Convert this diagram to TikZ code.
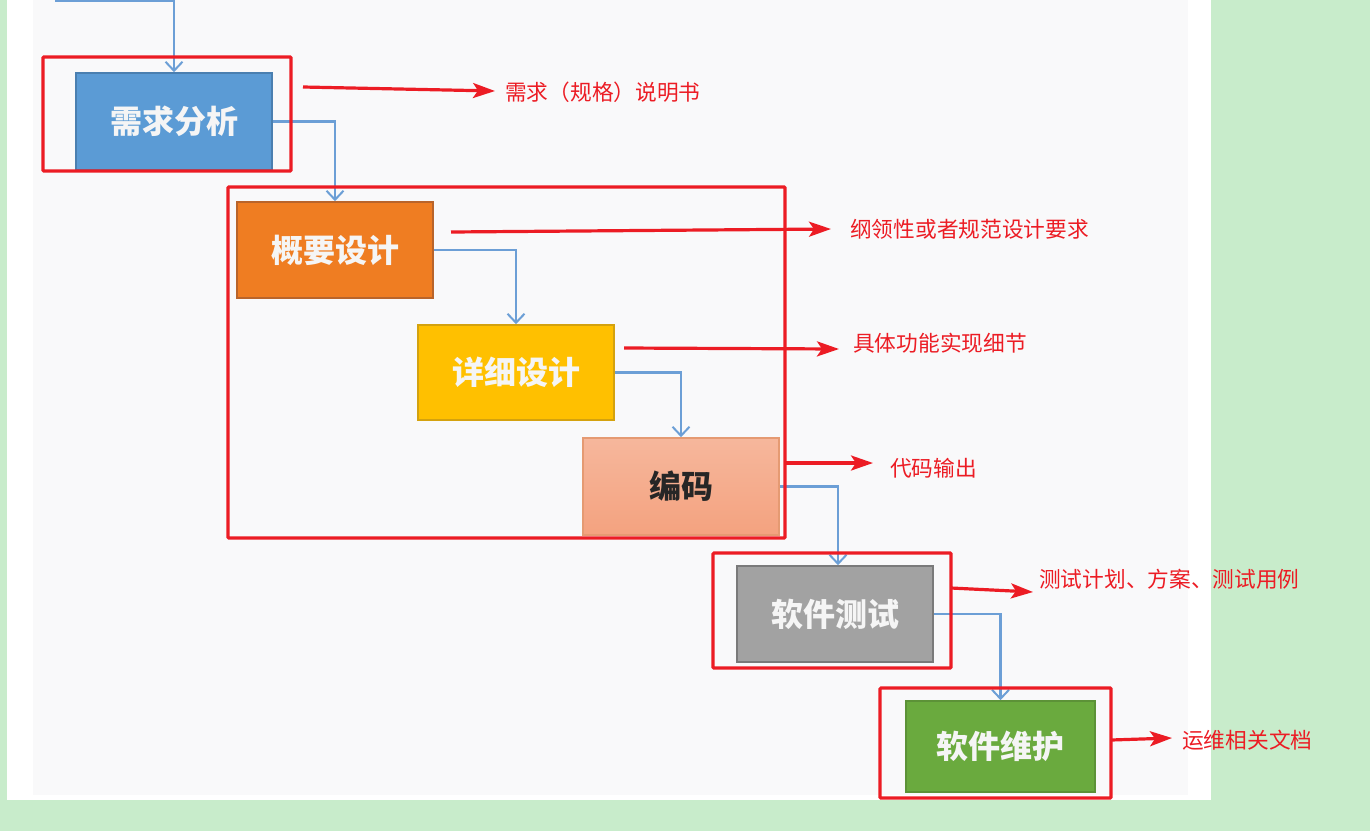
\documentclass[tikz,border=0pt]{standalone}
\usepackage{fontspec}
\newfontfamily\cjk{Noto Sans CJK SC}
\usetikzlibrary{arrows.meta}
\definecolor{bggreen}{HTML}{C8ECCB}
\definecolor{panel}{HTML}{F9F9FA}
\definecolor{redc}{HTML}{EC1C24}
\definecolor{flow}{HTML}{6C9FD6}
\definecolor{bluef}{HTML}{5B9BD5}\definecolor{blued}{HTML}{4A7FB0}
\definecolor{orangef}{HTML}{EF7D22}\definecolor{oranged}{HTML}{B9642A}
\definecolor{yellowf}{HTML}{FFC000}\definecolor{yellowd}{HTML}{D4A20E}
\definecolor{grayf}{HTML}{A2A2A2}\definecolor{grayd}{HTML}{7A7A7A}
\definecolor{greenf}{HTML}{6AAA3E}\definecolor{greend}{HTML}{5C9237}
\definecolor{salmt}{HTML}{F6B79C}\definecolor{salmb}{HTML}{F4A27F}\definecolor{salmd}{HTML}{E59A72}
\tikzset{
  stage/.style={draw, line width=1.6pt, minimum width=196pt, minimum height=96pt, inner sep=0pt,
    font=\cjk\bfseries\fontsize{32}{32}\selectfont, text=white!96!black},
  flowline/.style={draw=flow, line width=2.2pt, -{Straight Barb[length=9pt,width=17pt,line width=2pt]}},
  frame/.style={draw=redc, line width=3.2pt, rounded corners=1pt},
  note/.style={draw=redc, line width=3.2pt, -{Stealth[length=22pt,width=15pt,inset=5pt]}},
  notelabel/.style={anchor=west, text=redc, inner sep=0pt, font=\cjk\fontsize{21.7}{21.7}\selectfont},
}
\begin{document}
\begin{tikzpicture}[x=1pt,y=-1pt]
\useasboundingbox (0,0) rectangle (1370,831);
\fill[bggreen] (0,0) rectangle (1370,831);
\fill[white] (7,0) rectangle (1211,800);
\fill[panel] (33,0) rectangle (1188,795);

% stages
\node[stage, fill=bluef, draw=blued, minimum height=97pt] (req) at (174,121.5) {需求分析};
\node[stage, fill=orangef, draw=oranged] (sum) at (335,250) {概要设计};
\node[stage, fill=yellowf, draw=yellowd, minimum height=95pt] (det) at (516,372.5) {详细设计};
\node[stage, top color=salmt, bottom color=salmb, draw=salmd, minimum height=97pt, text={black!85}] (code) at (681,486.5) {编码};
\node[stage, fill=grayf, draw=grayd] (test) at (835,614) {软件测试};
\node[stage, fill=greenf, draw=greend, minimum width=189pt, minimum height=91pt] (maint) at (1000.5,746.5) {软件维护};

% flow connectors
\coordinate (start) at (55,1);
\coordinate (bend0) at (174,1);
\draw[flowline] (start) -- (bend0) -- (req.north);
\draw[flowline] (req.east) -| (sum.north);
\draw[flowline] (sum.east) -| (det.north);
\draw[flowline] (det.east) -| (code.north);
\draw[flowline] (code.east) -| ([xshift=3pt]test.north);
\draw[flowline] (test.east) -| (maint.north);

% red frames
\draw[frame] (43,57) rectangle (291,171);
\draw[frame] (228,187) rectangle (785,538);
\draw[frame] (713,553) rectangle (951,668);
\draw[frame] (880,688) rectangle (1111,798);

% notes
\node[notelabel] (n1) at (505,92) {需求（规格）说明书};
\node[notelabel] (n2) at (850,229) {纲领性或者规范设计要求};
\node[notelabel] (n3) at (853,343) {具体功能实现细节};
\node[notelabel] (n4) at (890,468) {代码输出};
\node[notelabel] (n5) at (1039,579) {测试计划、方案、测试用例};
\node[notelabel] (n6) at (1182,740) {运维相关文档};

\coordinate (a1s) at (303,87);   \coordinate (a1e) at (495,91);
\coordinate (a2s) at (451,232);  \coordinate (a2e) at (831,229);
\coordinate (a3s) at (624,348);  \coordinate (a3e) at (839,349);
\coordinate (a4s) at (785,463);  \coordinate (a4e) at (873,463);
\coordinate (a5s) at (951,588);  \coordinate (a5e) at (1033,592);
\coordinate (a6s) at (1111,740); \coordinate (a6e) at (1172,738);
\draw[note] (a1s) -- (a1e);
\draw[note] (a2s) -- (a2e);
\draw[note] (a3s) -- (a3e);
\draw[note] (a4s) -- (a4e);
\draw[note] (a5s) -- (a5e);
\draw[note] (a6s) -- (a6e);
\end{tikzpicture}
\end{document}
